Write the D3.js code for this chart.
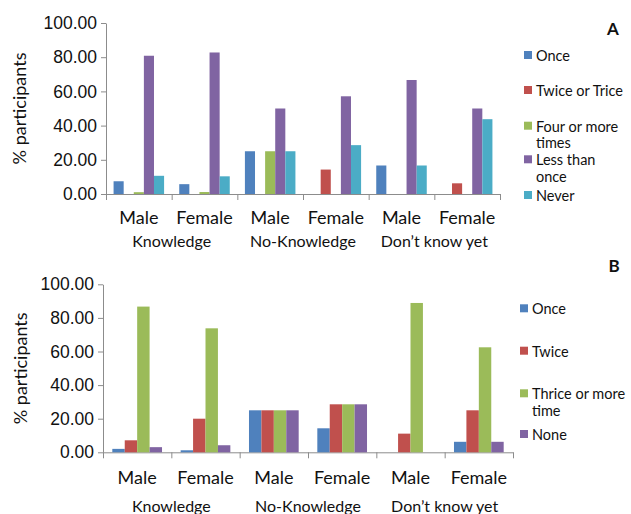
<!DOCTYPE html>
<html>
<head>
<meta charset="utf-8">
<script src="https://cdn.jsdelivr.net/npm/d3@7"></script>
<style>
  html, body { margin: 0; padding: 0; background: #fff; }
  svg { display: block; font-family: Lato, "Open Sans", sans-serif; }
  .axis path, .axis line { stroke: #8c8c8c; }
  .axis text { fill: #111; }
</style>
</head>
<body>
<svg id="chart" width="631" height="514"></svg>
<script>
// Shared category axis
const categories = ["Male", "Female", "Male", "Female", "Male", "Female"];
const groups = ["Knowledge", "No-Knowledge", "Don\u2019t know yet"];
const yTicks = [0, 20, 40, 60, 80, 100];

// Panel A
const seriesA = ["Once", "Twice or Trice", "Four or more times", "Less than once", "Never"];
const onceA = [7.45, 5.75, 25, 0, 16.67, 0];
const twiceOrTriceA = [0, 0, 0, 14.29, 0, 6.25];
const fourOrMoreA = [1.06, 1.15, 25, 0, 0, 0];
const lessThanOnceA = [80.85, 82.76, 50, 57.14, 66.67, 50];
const neverA = [10.64, 10.34, 25, 28.57, 16.67, 43.75];

// Panel B
const seriesB = ["Once", "Twice", "Thrice or more time", "None"];
const onceB = [2.04, 1.2, 25, 14.29, 0, 6.25];
const twiceB = [7.14, 20.0, 25, 28.57, 11.11, 25];
const thriceOrMoreB = [86.73, 73.8, 25, 28.57, 88.89, 62.5];
const noneB = [3.06, 4.2, 25, 28.57, 0, 6.25];

const palette = ["#4f81bd", "#c0504d", "#9bbb59", "#8064a2", "#4bacc6"];

const svg = d3.select("#chart");

function drawPanel(opt) {
  const g = svg.append("g");
  const x = d3.scaleBand().domain(d3.range(categories.length)).range([opt.x0, opt.x1]).paddingInner(0).paddingOuter(0);
  const y = d3.scaleLinear().domain([0, 100]).range([opt.yBottom, opt.yTop]);
  const bandW = x.bandwidth();
  const groupW = bandW / (1 + opt.gapRatio / opt.series.length);
  const xs = d3.scaleBand().domain(d3.range(opt.series.length))
    .range([(bandW - groupW) / 2, (bandW + groupW) / 2]).padding(0);

  // y axis
  g.append("g").attr("class", "axis")
    .attr("transform", `translate(${opt.x0},0)`)
    .call(d3.axisLeft(y).tickValues(yTicks).tickFormat(d3.format(".2f")).tickSizeInner(5).tickSizeOuter(0).tickPadding(4))
    .call(a => a.selectAll("text").style("font-size", "17.5px"));

  // category boundary ticks along x axis
  const xb = d3.scaleLinear().domain([0, categories.length]).range([opt.x0, opt.x1]);
  g.append("g").attr("class", "axis")
    .attr("transform", `translate(0,${opt.yBottom})`)
    .call(d3.axisBottom(xb).tickValues(d3.range(categories.length + 1)).tickFormat("").tickSizeInner(6).tickSizeOuter(0));

  // bars
  opt.values.forEach((vals, si) => {
    g.append("g").selectAll("rect").data(vals).join("rect")
      .attr("x", (d, i) => x(i) + xs(si))
      .attr("width", xs.bandwidth())
      .attr("y", d => y(d))
      .attr("height", d => y(0) - y(d))
      .attr("fill", palette[si]);
  });

  // category labels
  g.append("g").selectAll("text").data(categories).join("text")
    .attr("x", (d, i) => x(i) + bandW / 2)
    .attr("y", opt.catY)
    .attr("text-anchor", "middle")
    .attr("dominant-baseline", "central")
    .style("font-size", "18px").attr("fill", "#111")
    .text(d => d);

  // group labels spanning two categories each
  g.append("g").selectAll("text").data(groups).join("text")
    .attr("x", (d, i) => x(i * 2) + bandW)
    .attr("y", opt.groupY)
    .attr("text-anchor", "middle")
    .attr("dominant-baseline", "central")
    .style("font-size", "16px").attr("fill", "#111")
    .text(d => d);

  // y axis title
  g.append("text")
    .attr("transform", `translate(${opt.titleX},${(opt.yTop + opt.yBottom) / 2}) rotate(-90)`)
    .attr("text-anchor", "middle").attr("dominant-baseline", "central")
    .style("font-size", "18px").attr("fill", "#111")
    .text("% participants");

  // panel letter
  g.append("text")
    .attr("x", opt.letterX).attr("y", opt.letterY)
    .attr("text-anchor", "middle").attr("dominant-baseline", "central")
    .style("font-size", "17px").style("font-weight", "bold").attr("fill", "#111")
    .text(opt.letter);

  // legend
  const leg = g.append("g");
  opt.series.forEach((name, si) => {
    const row = leg.append("g").attr("transform", `translate(${opt.legX},${opt.legRows[si]})`);
    row.append("rect").attr("x", 0).attr("y", -4).attr("width", 8).attr("height", 8).attr("fill", palette[si]);
    const t = row.append("text").attr("x", opt.legTextDx).attr("y", 0)
      .attr("dominant-baseline", "central")
      .style("font-size", "14.5px").attr("fill", "#111");
    // simple word wrap
    const words = name.split(" ");
    let line = [];
    let tspan = t.append("tspan").attr("x", opt.legTextDx).attr("dy", 0);
    words.forEach(w => {
      line.push(w);
      tspan.text(line.join(" "));
      if (tspan.node().getComputedTextLength() > opt.legWrap && line.length > 1) {
        line.pop();
        tspan.text(line.join(" "));
        line = [w];
        tspan = t.append("tspan").attr("x", opt.legTextDx).attr("dy", opt.legLineH).text(w);
      }
    });
  });
}

drawPanel({
  series: seriesA,
  values: [onceA, twiceOrTriceA, fourOrMoreA, lessThanOnceA, neverA],
  x0: 106, x1: 500, yTop: 23, yBottom: 194, gapRatio: 1.5,
  catY: 217, groupY: 240, titleX: 19,
  letter: "A", letterX: 613, letterY: 28,
  legX: 524, legTextDx: 12, legWrap: 88, legLineH: 16.5,
  legRows: [55, 90, 125.7, 159.3, 195]
});

drawPanel({
  series: seriesB,
  values: [onceB, twiceB, thriceOrMoreB, noneB],
  x0: 103, x1: 513, yTop: 284.3, yBottom: 452.3, gapRatio: 1.5,
  catY: 477, groupY: 505, titleX: 20,
  letter: "B", letterX: 614, letterY: 265,
  legX: 520, legTextDx: 12, legWrap: 96, legLineH: 16.5,
  legRows: [308.3, 350.7, 393.3, 434]
});
</script>
</body>
</html>
